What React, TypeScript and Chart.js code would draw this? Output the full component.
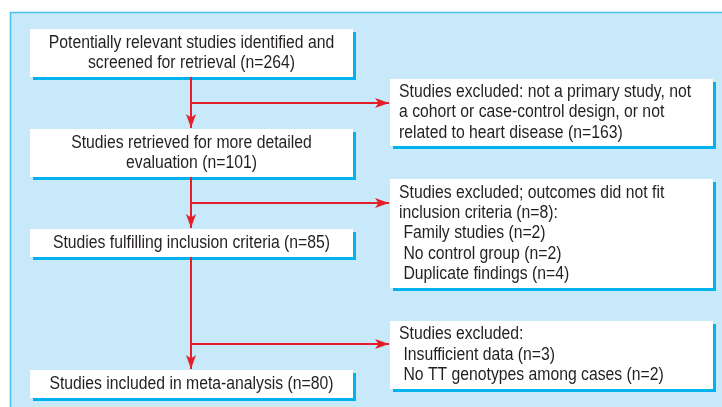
import React, { useEffect, useRef } from "react";
import { Chart, registerables } from "chart.js";

Chart.register(...registerables);

// ---- Data (content of the flow diagram) ----
const mainStepLines: string[][] = [
  ["Potentially relevant studies identified and", "screened for retrieval"],
  ["Studies retrieved for more detailed", "evaluation"],
  ["Studies fulfilling inclusion criteria"],
  ["Studies included in meta-analysis"],
];
const mainStepCounts: number[] = [264, 101, 85, 80];

const exclusionHeadingLines: string[][] = [
  ["Studies excluded: not a primary study, not", "a cohort or case-control design, or not", "related to heart disease"],
  ["Studies excluded; outcomes did not fit", "inclusion criteria"],
  ["Studies excluded:"],
];
const exclusionCounts: (number | null)[] = [163, 8, null];
const exclusionReasons: string[][] = [
  [],
  ["Family studies", "No control group", "Duplicate findings"],
  ["Insufficient data", "No TT genotypes among cases"],
];
const exclusionReasonCounts: number[][] = [[], [2, 2, 4], [3, 2]];

// ---- Layout (diagram coordinates in a 722 x 407 space) ----
const LAYOUT = {
  width: 722,
  height: 407,
  panel: { x: 10.5, y: 12.5 },
  leftX: [30, 353],
  rightX: [390, 713],
  mainBoxY: [
    [29, 77],
    [129, 177],
    [229, 257],
    [370, 398],
  ],
  exclBoxY: [
    [79, 146],
    [179, 288],
    [321, 389],
  ],
  trunkX: 191,
  branchY: [103, 203, 344],
  lineGap: 20.4,
  textPadLeft: 9,
  shadow: 3,
};

const COLORS = {
  panelFill: "#c8e9f9",
  panelBorder: "#4ebfee",
  box: "#ffffff",
  shadow: "#00b2ee",
  arrow: "#e41f2a",
  text: "#231f20",
};
const FONT = '17.5px "Liberation Sans", Arial, sans-serif';
const TEXT_CONDENSE = 0.9;

function buildMainText(i: number): string[] {
  const lines = [...mainStepLines[i]];
  lines[lines.length - 1] += ` (n=${mainStepCounts[i]})`;
  return lines;
}
function buildExclText(i: number): string[] {
  const lines = [...exclusionHeadingLines[i]];
  const c = exclusionCounts[i];
  if (c !== null) {
    lines[lines.length - 1] += ` (n=${c})` + (exclusionReasons[i].length ? ":" : "");
  }
  exclusionReasons[i].forEach((r, j) => lines.push(` ${r} (n=${exclusionReasonCounts[i][j]})`));
  return lines;
}

function buildSegments() {
  const L = LAYOUT;
  const segs: { pts: { x: number; y: number }[] }[] = [];
  for (let i = 0; i < L.mainBoxY.length - 1; i++) {
    const top = L.mainBoxY[i][1];
    const nextTop = L.mainBoxY[i + 1][0];
    segs.push({ pts: [{ x: L.trunkX, y: top }, { x: L.trunkX, y: nextTop - 1 }] });
    segs.push({ pts: [{ x: L.trunkX, y: L.branchY[i] }, { x: L.rightX[0] - 1, y: L.branchY[i] }] });
  }
  return segs;
}

function drawCondensed(ctx: CanvasRenderingContext2D, t: string, x: number, y: number) {
  ctx.save();
  ctx.translate(x, y);
  ctx.scale(TEXT_CONDENSE, 1);
  ctx.fillText(t, 0, 0);
  ctx.restore();
}

const diagramPlugin = {
  id: "flowDiagram",
  beforeDatasetsDraw(chart: any) {
    const { ctx, scales } = chart;
    const xs = scales.x;
    const ys = scales.y;
    const px = (v: number) => xs.getPixelForValue(v);
    const py = (v: number) => ys.getPixelForValue(v);
    const L = LAYOUT;
    ctx.save();
    // panel
    ctx.fillStyle = COLORS.panelFill;
    ctx.fillRect(px(L.panel.x), py(L.panel.y), px(L.width + 20) - px(L.panel.x), py(L.height + 20) - py(L.panel.y));
    ctx.strokeStyle = COLORS.panelBorder;
    ctx.lineWidth = 1.6;
    ctx.beginPath();
    ctx.moveTo(px(L.panel.x), py(L.height + 20));
    ctx.lineTo(px(L.panel.x), py(L.panel.y));
    ctx.lineTo(px(L.width + 20), py(L.panel.y));
    ctx.stroke();

    const drawBox = (x0: number, x1: number, y0: number, y1: number) => {
      const s = L.shadow;
      ctx.fillStyle = COLORS.shadow;
      ctx.fillRect(px(x0 + s), py(y0 + s), px(x1) - px(x0), py(y1) - py(y0));
      ctx.fillStyle = COLORS.box;
      ctx.fillRect(px(x0), py(y0), px(x1) - px(x0), py(y1) - py(y0));
    };
    ctx.font = FONT;
    ctx.textBaseline = "middle";

    L.mainBoxY.forEach(([y0, y1], i) => {
      drawBox(L.leftX[0], L.leftX[1], y0, y1);
      const lines = buildMainText(i);
      const cy = (y0 + y1) / 2;
      ctx.fillStyle = COLORS.text;
      ctx.textAlign = "center";
      lines.forEach((t, k) => {
        const y = cy + (k - (lines.length - 1) / 2) * L.lineGap;
        drawCondensed(ctx, t, px((L.leftX[0] + L.leftX[1]) / 2), py(y));
      });
    });
    L.exclBoxY.forEach(([y0, y1], i) => {
      drawBox(L.rightX[0], L.rightX[1], y0, y1);
      const lines = buildExclText(i);
      const cy = (y0 + y1) / 2;
      ctx.fillStyle = COLORS.text;
      ctx.textAlign = "left";
      lines.forEach((t, k) => {
        const y = cy + (k - (lines.length - 1) / 2) * L.lineGap;
        drawCondensed(ctx, t, px(L.rightX[0] + L.textPadLeft), py(y));
      });
    });
    ctx.restore();
  },
  afterDatasetsDraw(chart: any) {
    const { ctx } = chart;
    ctx.save();
    ctx.fillStyle = COLORS.arrow;
    chart.data.datasets.forEach((ds: any, i: number) => {
      const meta = chart.getDatasetMeta(i);
      const pts = meta.data;
      if (pts.length < 2) return;
      const a = pts[pts.length - 2];
      const b = pts[pts.length - 1];
      const ang = Math.atan2(b.y - a.y, b.x - a.x);
      const len = 14;
      const half = 5;
      const notch = 3.5;
      ctx.save();
      ctx.translate(b.x, b.y);
      ctx.rotate(ang);
      ctx.beginPath();
      ctx.moveTo(0, 0);
      ctx.lineTo(-len, -half);
      ctx.lineTo(-len + notch, 0);
      ctx.lineTo(-len, half);
      ctx.closePath();
      ctx.fill();
      ctx.restore();
    });
    ctx.restore();
  },
};

export default function App() {
  const ref = useRef<HTMLCanvasElement | null>(null);
  useEffect(() => {
    if (!ref.current) return;
    const segs = buildSegments();
    const chart = new Chart(ref.current, {
      type: "scatter",
      data: {
        datasets: segs.map((s) => ({
          data: s.pts,
          showLine: true,
          borderColor: COLORS.arrow,
          borderWidth: 2,
          pointRadius: 0,
          pointHoverRadius: 0,
          fill: false,
        })),
      },
      options: {
        responsive: false,
        animation: false,
        events: [],
        layout: { padding: 0 },
        plugins: { legend: { display: false }, tooltip: { enabled: false }, title: { display: false } },
        scales: {
          x: { type: "linear", min: 0, max: LAYOUT.width, display: false },
          y: { type: "linear", min: 0, max: LAYOUT.height, reverse: true, display: false },
        },
      },
      plugins: [diagramPlugin],
    });
    return () => chart.destroy();
  }, []);
  return (
    <div style={{ position: "fixed", left: 0, top: 0, width: LAYOUT.width, height: LAYOUT.height, background: "#fff" }}>
      <canvas ref={ref} width={LAYOUT.width} height={LAYOUT.height} style={{ display: "block" }} />
    </div>
  );
}
